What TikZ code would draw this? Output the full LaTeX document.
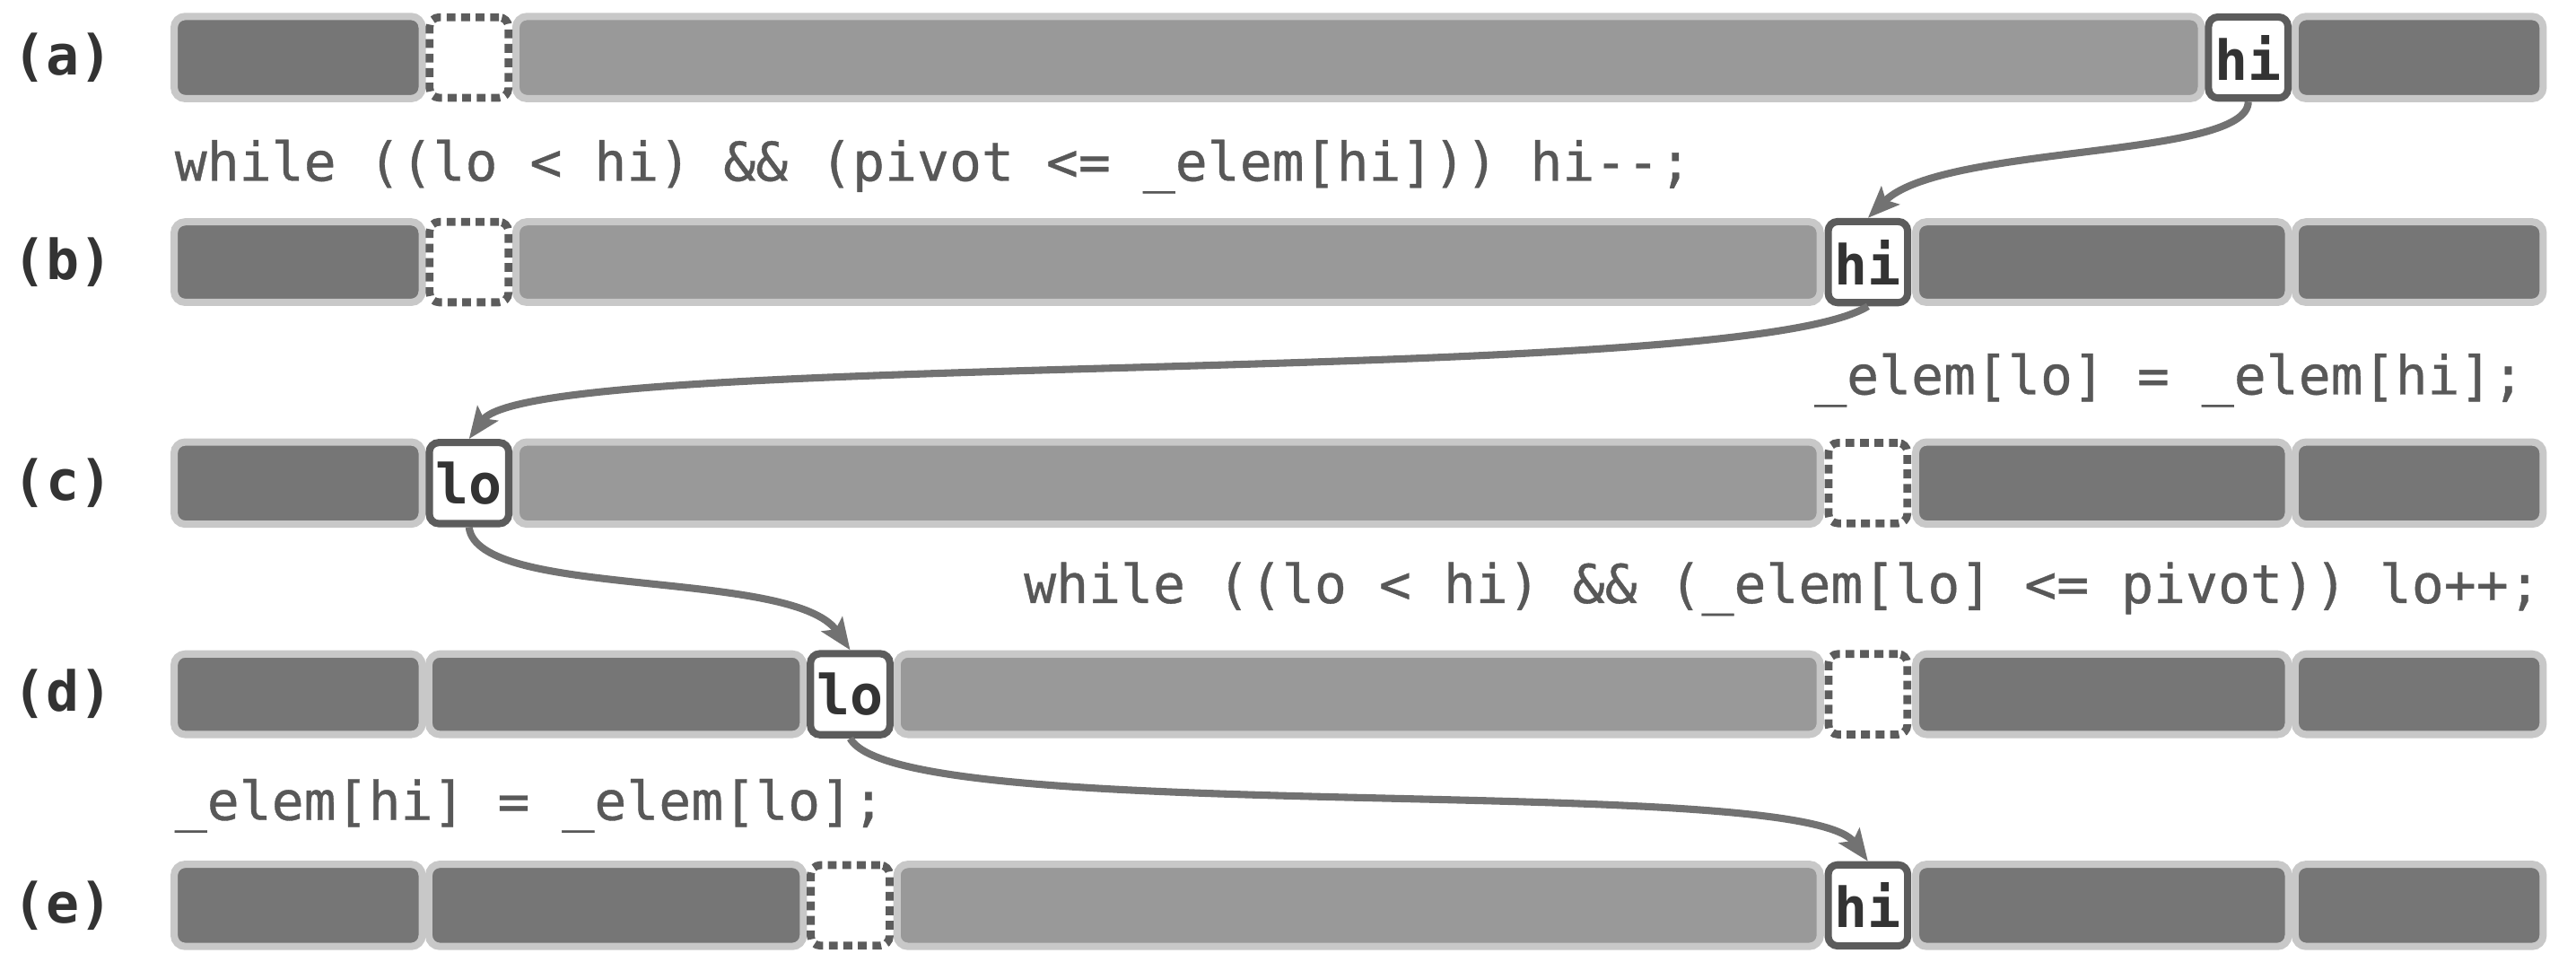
\documentclass[tikz,border=0pt]{standalone}
\usepackage{xcolor}
\usepackage{fontspec}
\setmonofont{DejaVu Sans Mono}
\newfontfamily\codefont[FakeBold=0.6]{DejaVu Sans Mono}
\usepackage{tikz}
\usetikzlibrary{arrows.meta}

\definecolor{donefill}{HTML}{767676}
\definecolor{todofill}{HTML}{999999}
\definecolor{segrim}{HTML}{C8C8C8}
\definecolor{ptrrim}{HTML}{5C5C5C}
\definecolor{codegray}{HTML}{585858}
\definecolor{jumpgray}{HTML}{727272}

\begin{document}
\begin{tikzpicture}[x=0.1831mm, y=-0.1831mm,
    done/.style={fill=donefill, draw=segrim, line width=2.3pt, rounded corners=3.5pt},
    todo/.style={done, fill=todofill},
    ptr/.style={rectangle, rounded corners=3pt, draw=ptrrim, fill=white, line width=2.3pt,
                minimum width=25.2pt, minimum height=25.7pt, inner sep=0pt,
                font=\ttfamily\bfseries\fontsize{17.5}{20}\selectfont, text=black!80},
    hole/.style={ptr, line width=2.5pt, dash pattern=on 2.8pt off 1.8pt,
                 minimum width=25pt, minimum height=25.5pt},
    code/.style={font=\codefont\fontsize{17}{20}\selectfont, text=codegray, inner sep=0pt},
    tag/.style={font=\ttfamily\bfseries\fontsize{17.5}{20}\selectfont, text=black!80},
    jump/.style={draw=jumpgray, line width=2.3pt, -{Stealth[length=10pt,width=8pt,inset=2pt]}}]
    \useasboundingbox (0,0) rectangle (1568,585);

    \begin{scope}[every node/.style={tag}]
        \node (tagA) at (38,35) {(a)};
        \node (tagB) at (38,159.5) {(b)};
        \node (tagC) at (38,294) {(c)};
        \node (tagD) at (38,422.5) {(d)};
        \node (tagE) at (38,551) {(e)};
    \end{scope}

    % (a)
    \draw[done] (106,10) rectangle (257,60);
    \draw[todo] (314,10) rectangle (1340,60);
    \draw[done] (1397,10) rectangle (1548,60);
    \node[hole] (holeA) at (285.5,35) {};
    \node[ptr] (hiA) at (1368.5,35) {hi};

    % (b)
    \draw[done] (106,135) rectangle (257,184);
    \draw[todo] (314,135) rectangle (1108,184);
    \draw[done] (1166,135) rectangle (1393,184);
    \draw[done] (1397,135) rectangle (1548,184);
    \node[hole] (holeB) at (285.5,159.5) {};
    \node[ptr] (hiB) at (1137,159.5) {hi};

    % (c)
    \draw[done] (106,269) rectangle (257,319);
    \draw[todo] (314,269) rectangle (1108,319);
    \draw[done] (1166,269) rectangle (1393,319);
    \draw[done] (1397,269) rectangle (1548,319);
    \node[ptr] (loC) at (285.5,294) {lo};
    \node[hole] (holeC) at (1137,294) {};

    % (d)
    \draw[done] (106,398) rectangle (257,447);
    \draw[done] (261,398) rectangle (489,447);
    \draw[todo] (546,398) rectangle (1108,447);
    \draw[done] (1166,398) rectangle (1393,447);
    \draw[done] (1397,398) rectangle (1548,447);
    \node[ptr] (loD) at (517.5,422.5) {lo};
    \node[hole] (holeD) at (1137,422.5) {};

    % (e)
    \draw[done] (106,526) rectangle (257,576);
    \draw[done] (261,526) rectangle (489,576);
    \draw[todo] (546,526) rectangle (1108,576);
    \draw[done] (1166,526) rectangle (1393,576);
    \draw[done] (1397,526) rectangle (1548,576);
    \node[hole] (holeE) at (517.5,551) {};
    \node[ptr] (hiE) at (1137,551) {hi};

    \begin{scope}[every node/.style={code}]
        \node[anchor=base west] (stepA) at (106,110) {while ((lo < hi) \&\& (pivot <= \_elem[hi])) hi-{}-;};
        \node[anchor=base east] (stepB) at (1537,240) {\_elem[lo] = \_elem[hi];};
        \node[anchor=base east] (stepC) at (1547,367) {while ((lo < hi) \&\& (\_elem[lo] <= pivot)) lo+{}+;};
        \node[anchor=base west] (stepD) at (106,499) {\_elem[hi] = \_elem[lo];};
    \end{scope}

    \draw[jump] (hiA.south) .. controls +(0,35) and +(45,-45) .. (hiB.north);
    \draw[jump] (hiB.south) .. controls +(-80,50) and +(40,-55) .. (loC.north);
    \draw[jump] (loC.south) .. controls +(5,44) and +(-35,-50) .. (loD.north);
    \draw[jump] (loD.south) .. controls +(30,55) and +(-40,-55) .. (hiE.north);
\end{tikzpicture}
\end{document}
